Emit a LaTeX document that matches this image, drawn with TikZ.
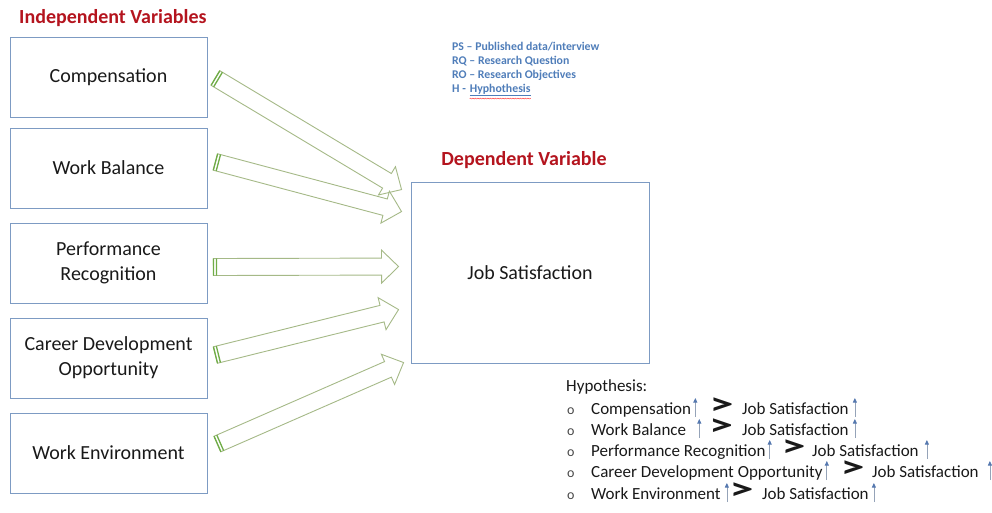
\documentclass[tikz,border=0pt]{standalone}
\usepackage{fontspec}
\setmainfont{Carlito}
\usetikzlibrary{calc,arrows.meta,decorations.pathmorphing}

\definecolor{boxline}{RGB}{125,155,195}
\definecolor{titlered}{RGB}{180,20,30}
\definecolor{arrowline}{RGB}{165,185,135}
\definecolor{stripegreen}{RGB}{112,173,71}
\definecolor{legendblue}{RGB}{79,125,185}
\definecolor{ink}{RGB}{25,25,25}
\definecolor{upblue}{RGB}{85,120,175}

\tikzset{
  varbox/.style={draw=boxline, line width=0.9pt, minimum width=197pt, minimum height=80pt,
    align=center, text=ink, font=\fontsize{20}{25}\selectfont},
  depbox/.style={draw=boxline, line width=0.9pt, minimum width=238pt, minimum height=181pt,
    text=ink, font=\fontsize{20}{25}\selectfont},
  heading/.style={text=titlered, font=\bfseries\fontsize{20}{24}\selectfont, inner sep=0pt},
  legend/.style={text=legendblue, font=\bfseries\fontsize{11.8}{13}\selectfont, inner sep=0pt, anchor=base west},
  arrowbody/.style={draw=arrowline, fill=white, line width=0.9pt, line join=miter},
  stripe/.style={draw=stripegreen, line width=1.3pt},
  hyp/.style={text=ink, font=\fontsize{17}{20}\selectfont, inner sep=0pt, anchor=base west},
  hypbullet/.style={text=ink!80, font=\fontsize{14}{18}\selectfont, inner sep=0pt, anchor=base west},
  gt/.style={text=ink, font=\bfseries\fontsize{31}{31}\selectfont, inner sep=0pt, xscale=1.55},
  uparrow/.style={draw=upblue!55!gray!70, line width=0.7pt, -{Triangle[length=4.5pt,width=4pt,color=upblue]}},
}

% hollow block arrow from #1 (tail) to #2 (tip), green stripes at the tail
\newcommand\blockarrow[2]{%
  \coordinate (ba-h) at ($(#2)!17pt!(#1)$);
  \coordinate (ba-s) at ($(#1)!3pt!(#2)$);
  \path[arrowbody] ($(#1)!8.5pt!90:(#2)$) -- ($(ba-h)!8.5pt!90:(#2)$)
    -- ($(ba-h)!16.5pt!90:(#2)$) -- (#2) -- ($(ba-h)!16.5pt!-90:(#2)$)
    -- ($(ba-h)!8.5pt!-90:(#2)$) -- ($(#1)!8.5pt!-90:(#2)$) -- cycle;
  \draw[stripe] ($(#1)!8.5pt!90:(#2)$) -- ($(#1)!8.5pt!-90:(#2)$);
  \draw[stripe] ($(ba-s)!8.5pt!90:(#2)$) -- ($(ba-s)!8.5pt!-90:(#2)$);
}

\begin{document}
\begin{tikzpicture}[x=1pt,y=-1pt]
\useasboundingbox (0,0) rectangle (992,512);

% headings
\node[heading, anchor=west] (indep) at (19,18) {Independent Variables};
\node[heading] (deptitle) at (524,160) {Dependent Variable};

% independent variables
\node[varbox] (c1) at (108.5,77) {Compensation};
\node[varbox] (c2) at (108.5,168) {Work Balance};
\node[varbox] (c3) at (108.5,263) {Performance\\Recognition};
\node[varbox] (c4) at (108.5,358) {Career Development\\Opportunity};
\node[varbox] (c5) at (108.5,453) {Work Environment};

% dependent variable
\node[depbox] (dep) at (530,272.5) {Job Satisfaction};

% arrow ends
\coordinate (t1) at ($(c1.east)+(8,1)$);
\coordinate (t2) at ($(c2.east)+(8,-6)$);
\coordinate (t3) at ($(c3.east)+(6,4)$);
\coordinate (t4) at ($(c4.east)+(8,-3)$);
\coordinate (t5) at ($(c5.east)+(10,-9)$);
\coordinate (p1) at ($(dep.north west)+(-9,8)$);
\coordinate (p2) at ($(dep.north west)+(-9,30)$);
\coordinate (p3) at ($(dep.north west)+(-12,85)$);
\coordinate (p4) at ($(dep.north west)+(-12,128)$);
\coordinate (p5) at ($(dep.north west)+(-7,181)$);

\blockarrow{t1}{p1}
\blockarrow{t2}{p2}
\blockarrow{t3}{p3}
\blockarrow{t4}{p4}
\blockarrow{t5}{p5}

% abbreviations
\node[legend] (l1) at (452,50) {PS – Published data/interview};
\node[legend] (l2) at (452,64) {RQ – Research Question};
\node[legend] (l3) at (452,78) {RO – Research Objectives};
\node[legend] (l4) at (452,92) {H -};
\node[legend] (hw) at ($(l4.base east)+(3.5,0)$) {\underline{Hyphothesis}};
\draw[red!85, line width=0.4pt, decorate, decoration={snake, amplitude=0.5pt, segment length=2.5pt}]
  ($(hw.south west)+(0,2.5)$) -- ($(hw.south east)+(0,2.5)$);

% hypotheses
\node[hyp] (hyptitle) at (566,391) {Hypothesis:};

\foreach \i/\b/\name/\gx/\jx/\da/\db in {
    1/414/Compensation/721.5/742/4/6,
    2/435/Work Balance/721/742/13/6,
    3/456/Performance Recognition/793.5/812/4/8,
    4/477/Career Development Opportunity/852.5/872/4/11,
    5/499/Work Environment/741.5/762/6/5}{
  \node[hypbullet] (hb\i) at (567,\b) {o};
  \node[hyp] (ha\i) at (591,\b) {\name};
  \node[gt] (hg\i) at (\gx,\b-7.5) {>};
  \node[hyp] (hj\i) at (\jx,\b) {Job Satisfaction};
  \draw[uparrow] ($(ha\i.base east)+(\da,3)$) -- ++(0,-19);
  \draw[uparrow] ($(hj\i.base east)+(\db,3)$) -- ++(0,-19);
}
\end{tikzpicture}
\end{document}
